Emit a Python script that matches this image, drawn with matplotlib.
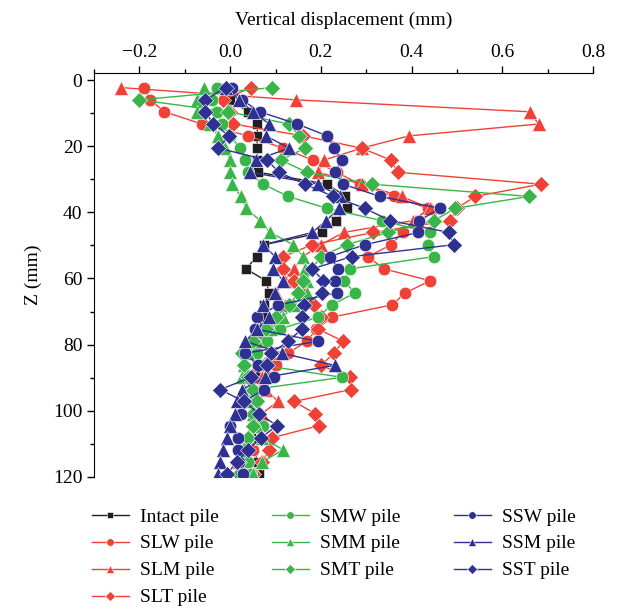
import numpy as np
import matplotlib.pyplot as plt
from matplotlib.ticker import MultipleLocator

plt.rcParams['font.family'] = ['Liberation Serif', 'DejaVu Serif']

# depth of the measuring points (mm)
depth = [2.3, 6.0, 9.6, 13.3, 16.9, 20.6, 24.2, 27.9, 31.5, 35.2, 38.8, 42.5, 46.1,
         49.8, 53.4, 57.1, 60.7, 64.4, 68.0, 71.7, 75.3, 79.0, 82.6, 86.3, 89.9,
         93.6, 97.2, 100.9, 104.5, 108.2, 111.8, 115.5, 119.1]

# vertical displacement (mm) for each pile
intact = [-0.01, 0.0, 0.04, 0.06, 0.06, 0.059, 0.06, 0.062, 0.214, 0.254, 0.257, 0.233, 0.203,
          0.075, 0.059, 0.035, 0.079, 0.086, 0.075, 0.07, 0.065, 0.06, 0.06, 0.06, 0.055,
          0.05, 0.05, 0.05, 0.05, 0.045, 0.051, 0.062, 0.064]
slw = [-0.19, -0.176, -0.145, -0.062, 0.04, 0.116, 0.182, 0.235, 0.286, 0.361, 0.436, 0.41, 0.38,
       0.355, 0.304, 0.339, 0.441, 0.386, 0.357, 0.225, 0.19, 0.17, 0.127, 0.1, 0.09,
       0.07, 0.06, 0.05, 0.05, 0.04, 0.05, 0.03, 0.05]
slm = [-0.24, 0.145, 0.66, 0.68, 0.394, 0.29, 0.207, 0.194, 0.29, 0.378, 0.44, 0.403, 0.25,
       0.2, 0.16, 0.14, 0.12, 0.1, 0.12, 0.1, 0.08, 0.07, 0.09, 0.06, 0.07,
       0.08, 0.105, 0.07, 0.05, 0.04, 0.03, 0.02, 0.02]
slt = [0.046, -0.015, 0.0, 0.007, 0.161, 0.29, 0.354, 0.37, 0.685, 0.54, 0.5, 0.485, 0.315,
       0.181, 0.117, 0.117, 0.14, 0.16, 0.185, 0.2, 0.194, 0.249, 0.229, 0.2, 0.264,
       0.266, 0.141, 0.187, 0.196, 0.092, 0.086, 0.07, 0.05]
smw = [-0.03, -0.04, -0.03, -0.018, 0.0, 0.022, 0.033, 0.04, 0.073, 0.128, 0.213, 0.334, 0.441,
       0.436, 0.449, 0.264, 0.251, 0.275, 0.224, 0.194, 0.11, 0.081, 0.06, 0.073, 0.247,
       0.05, 0.055, 0.05, 0.073, 0.04, 0.035, 0.04, 0.045]
smm = [-0.057, -0.073, -0.073, -0.045, -0.026, -0.011, 0.0, 0.0, 0.004, 0.024, 0.035, 0.066, 0.088,
       0.139, 0.161, 0.165, 0.17, 0.17, 0.14, 0.117, 0.09, 0.06, 0.04, 0.03, 0.026,
       0.03, 0.04, 0.05, 0.06, 0.07, 0.117, 0.07, 0.05]
smt = [0.092, -0.2, -0.004, 0.13, 0.152, 0.165, 0.112, 0.169, 0.312, 0.659, 0.496, 0.45, 0.348,
       0.257, 0.2, 0.18, 0.16, 0.15, 0.13, 0.1, 0.08, 0.05, 0.026, 0.03, 0.04,
       0.05, 0.06, 0.05, 0.05, 0.04, 0.03, 0.02, 0.02]
ssw = [0.004, 0.026, 0.065, 0.148, 0.214, 0.229, 0.246, 0.231, 0.249, 0.33, 0.463, 0.417, 0.415,
       0.297, 0.22, 0.238, 0.231, 0.235, 0.106, 0.06, 0.055, 0.194, 0.033, 0.062, 0.097,
       0.075, 0.03, 0.025, 0.0, 0.018, 0.018, 0.02, 0.029]
ssm = [-0.01, 0.02, 0.05, 0.086, 0.079, 0.13, 0.057, 0.044, 0.194, 0.242, 0.24, 0.212, 0.181,
       0.073, 0.099, 0.095, 0.117, 0.099, 0.073, 0.086, 0.06, 0.033, 0.114, 0.231, 0.077,
       0.026, 0.015, 0.011, 0.0, -0.007, -0.015, -0.022, -0.026]
sst = [-0.01, -0.055, -0.055, -0.037, -0.002, -0.026, 0.081, 0.108, 0.165, 0.227, 0.297, 0.352, 0.483,
       0.493, 0.268, 0.181, 0.205, 0.203, 0.163, 0.158, 0.158, 0.128, 0.09, 0.081, 0.046,
       -0.022, 0.03, 0.064, 0.103, 0.068, 0.04, 0.015, -0.007]

black = '#231f20'
red = '#ef4136'
green = '#39b54a'
blue = '#2e3192'

series = [
    ('Intact pile', intact, black, 's', 7),
    ('SLW pile', slw, red, 'o', 9),
    ('SLM pile', slm, red, '^', 10),
    ('SLT pile', slt, red, 'D', 8),
    ('SMW pile', smw, green, 'o', 9),
    ('SMM pile', smm, green, '^', 10),
    ('SMT pile', smt, green, 'D', 8),
    ('SSW pile', ssw, blue, 'o', 9),
    ('SSM pile', ssm, blue, '^', 10),
    ('SST pile', sst, blue, 'D', 8),
]

fig = plt.figure(figsize=(6.19, 6.09), dpi=100)
ax = fig.add_axes([0.152, 0.217, 0.806, 0.663])

for name, vals, col, mk, ms in series:
    ax.plot(vals, depth, color=col, marker=mk, ms=ms, lw=1.0,
            mec='white', mew=0.4, label=name)

ax.set_xlim(-0.3, 0.8)
ax.set_ylim(120, -2.1)
ax.xaxis.tick_top()
ax.xaxis.set_label_position('top')
ax.spines['right'].set_visible(False)
ax.spines['bottom'].set_visible(False)
ax.xaxis.set_major_locator(MultipleLocator(0.2))
ax.xaxis.set_minor_locator(MultipleLocator(0.1))
ax.yaxis.set_major_locator(MultipleLocator(20))
ax.yaxis.set_minor_locator(MultipleLocator(10))
ax.tick_params(which='major', length=5, width=1, labelsize=14, direction='out')
ax.tick_params(which='minor', length=3, width=1, direction='out')
ax.xaxis.set_major_formatter(plt.FuncFormatter(lambda v, p: f'{v:.1f}'.replace('-', '\u2212')))
ax.set_xlabel('Vertical displacement (mm)', fontsize=14, labelpad=14)
ax.set_ylabel('Z (mm)', fontsize=14, labelpad=8)

handles, labels = ax.get_legend_handles_labels()
fig.legend(handles, labels, loc='upper left', bbox_to_anchor=(0.148, 0.166),
           ncol=3, frameon=False, fontsize=14, markerscale=0.6,
           handlelength=1.9, handletextpad=0.6, columnspacing=2.72,
           labelspacing=0.48, borderpad=0, borderaxespad=0)

fig.savefig('out.png', dpi=100)
